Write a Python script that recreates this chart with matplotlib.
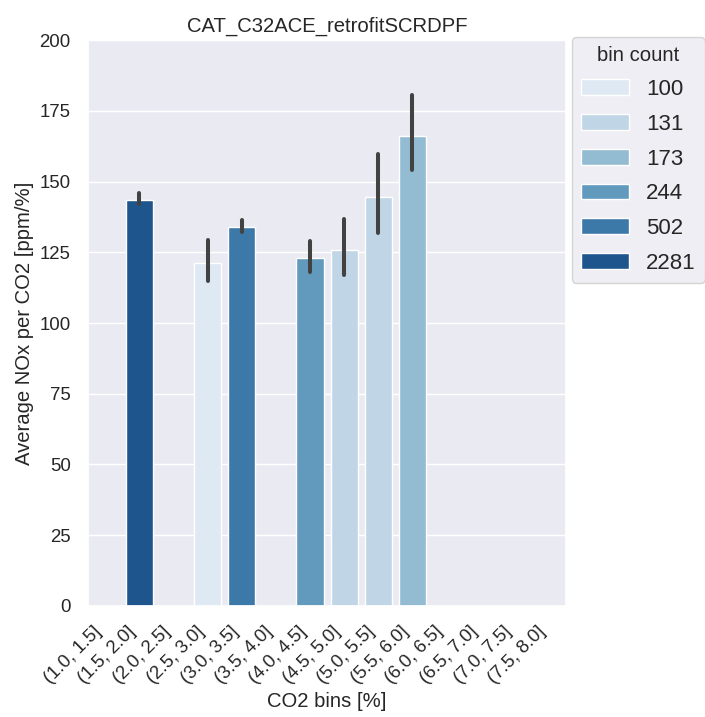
import matplotlib
matplotlib.use("Agg")
import matplotlib.pyplot as plt
import seaborn as sns
import numpy as np
from matplotlib.patches import Patch

sns.set_theme(style="darkgrid")
plt.rcParams["font.family"] = ["Liberation Sans", "DejaVu Sans"]

# CO2 bins on the x axis
bins = ["(1.0, 1.5]", "(1.5, 2.0]", "(2.0, 2.5]", "(2.5, 3.0]", "(3.0, 3.5]",
        "(3.5, 4.0]", "(4.0, 4.5]", "(4.5, 5.0]", "(5.0, 5.5]", "(5.5, 6.0]",
        "(6.0, 6.5]", "(6.5, 7.0]", "(7.0, 7.5]", "(7.5, 8.0]"]

# bins that hold data, with mean ratio, CI bounds and bin count
bar_bins = ["(1.5, 2.0]", "(2.5, 3.0]", "(3.0, 3.5]", "(4.0, 4.5]",
            "(4.5, 5.0]", "(5.0, 5.5]", "(5.5, 6.0]"]
mean_ratio = [143.5, 121.1, 134.0, 122.9, 125.8, 144.6, 166.2]
ci_low = [142.0, 115.0, 132.0, 117.9, 117.1, 131.7, 154.1]
ci_high = [145.8, 129.3, 136.4, 129.1, 136.7, 159.6, 180.5]
bin_count = [2281, 100, 502, 244, 131, 131, 173]

hue_levels = [100, 131, 173, 244, 502, 2281]
palette = [sns.desaturate(c, 0.75) for c in sns.color_palette("Blues", len(hue_levels))]
color_of = dict(zip(hue_levels, palette))

fig = plt.figure(figsize=(7.05, 7.17), dpi=100)
ax = fig.add_axes([0.125, 0.155, 0.678, 0.789])

xpos = [bins.index(b) for b in bar_bins]
ax.bar(xpos, mean_ratio, width=0.8,
       color=[color_of[c] for c in bin_count],
       edgecolor="white", linewidth=1.0, zorder=2)
for x, lo, hi in zip(xpos, ci_low, ci_high):
    ax.plot([x, x], [lo, hi], color="#424242", lw=2.9,
            solid_capstyle="round", zorder=3)

ax.grid(axis="x", visible=False)
ax.set_xlim(-0.5, len(bins) - 0.5)
ax.set_ylim(0, 200)
ax.set_yticks(np.arange(0, 201, 25))
ax.set_xticks(range(len(bins)))
ax.set_xticklabels(bins, rotation=45, ha="right", fontsize=13.4)
ax.tick_params(axis="y", labelsize=13.4, pad=6.5)
ax.tick_params(axis="x", pad=6.5)
ax.set_xlabel("CO2 bins [%]", fontsize=14.6, labelpad=3)
ax.set_ylabel("Average NOx per CO2 [ppm/%]", fontsize=14.6)
ax.set_title("CAT_C32ACE_retrofitSCRDPF", fontsize=14.6)

handles = [Patch(facecolor=color_of[h], edgecolor="white") for h in hue_levels]
leg = ax.legend(handles, [str(h) for h in hue_levels], title="bin count",
                loc="upper left", bbox_to_anchor=(1.012, 1.005),
                borderaxespad=0, fontsize=16, title_fontsize=14.6,
                handlelength=2.15, handleheight=0.72, labelspacing=0.62,
                frameon=True)

fig.savefig("out.png", dpi=100)
